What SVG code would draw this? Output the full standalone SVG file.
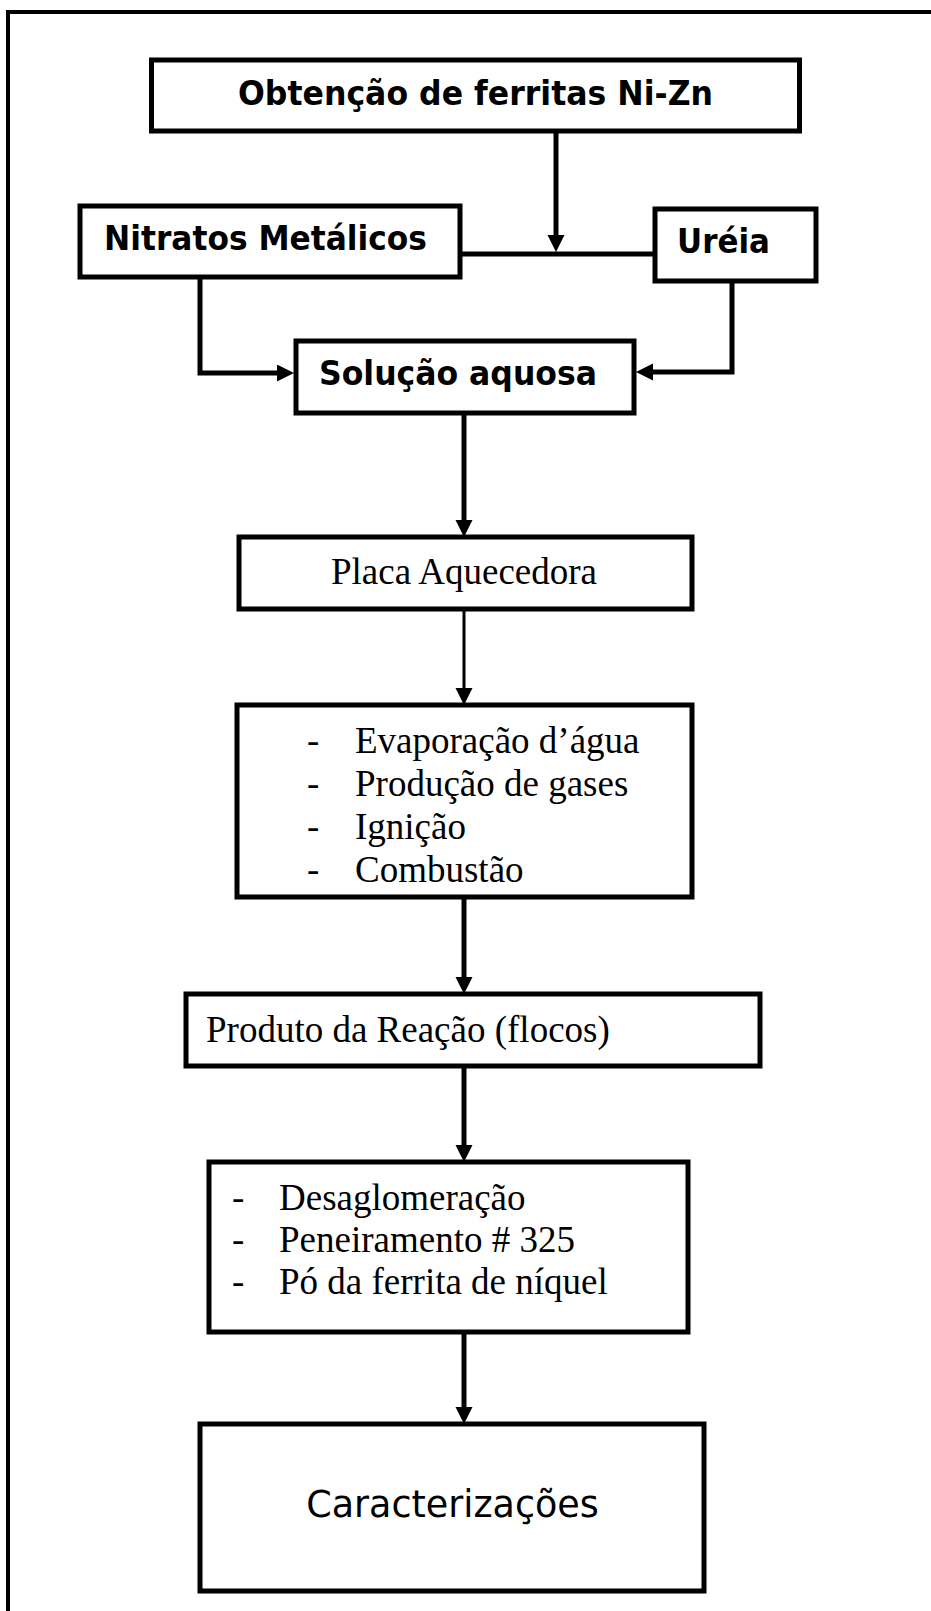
<svg xmlns="http://www.w3.org/2000/svg" width="931" height="1611" viewBox="0 0 931 1611">
<style>
.box{fill:#fff;stroke:#000;stroke-width:5}
.ln{fill:none;stroke:#000;stroke-width:5}
.thin{fill:none;stroke:#000;stroke-width:3}
.b{font-family:"DejaVu Sans",Verdana,sans-serif;font-weight:bold;font-size:33px;fill:#000}
.s{font-family:"Liberation Serif","Times New Roman",serif;font-size:37px;fill:#000}
.r{font-family:"DejaVu Sans",Verdana,sans-serif;font-size:36.5px;fill:#000}
</style>
<defs>
<marker id="ah" markerUnits="userSpaceOnUse" markerWidth="18" markerHeight="18" refX="2" refY="8.5" orient="auto">
<path d="M0,0 L17,8.5 L0,17 z" fill="#000"/>
</marker>
</defs>
<rect x="0" y="0" width="931" height="1611" fill="#fff"/>
<rect id="frame" x="8" y="12" width="1000" height="1700" fill="none" stroke="#000" stroke-width="4"/>

<g id="connectors">
<path class="ln" d="M556,131 V237" marker-end="url(#ah)"/>
<path class="ln" d="M460,254 H655"/>
<path class="ln" d="M200,277 V373 H279" marker-end="url(#ah)"/>
<path class="ln" d="M732,281 V372 H651" marker-end="url(#ah)"/>
<path class="ln" d="M464,413 V522" marker-end="url(#ah)"/>
<path class="thin" d="M464,609 V690" marker-end="url(#ah)"/>
<path class="ln" d="M464,898 V979" marker-end="url(#ah)"/>
<path class="ln" d="M464,1066 V1147" marker-end="url(#ah)"/>
<path class="ln" d="M464,1332 V1409" marker-end="url(#ah)"/>
</g>

<g id="obtencao">
<rect class="box" x="151.5" y="60" width="648" height="71"/>
<text class="b" x="238" y="105" textLength="475" lengthAdjust="spacingAndGlyphs">Obtenção de ferritas Ni-Zn</text>
</g>
<g id="nitratos">
<rect class="box" x="80" y="206" width="380" height="71"/>
<text class="b" x="104" y="250" textLength="323" lengthAdjust="spacingAndGlyphs">Nitratos Metálicos</text>
</g>
<g id="ureia">
<rect class="box" x="655" y="209" width="161" height="72"/>
<text class="b" x="677" y="253" textLength="93" lengthAdjust="spacingAndGlyphs">Uréia</text>
</g>
<g id="solucao">
<rect class="box" x="296" y="341" width="338" height="72"/>
<text class="b" x="319" y="385" textLength="278" lengthAdjust="spacingAndGlyphs">Solução aquosa</text>
</g>
<g id="placa">
<rect class="box" x="239" y="537" width="453" height="72"/>
<text class="s" x="464" y="584" text-anchor="middle">Placa Aquecedora</text>
</g>
<g id="processos">
<rect class="box" x="237" y="705" width="455" height="192"/>
<text class="s" x="307" y="753">-</text><text class="s" x="355" y="753">Evaporação d’água</text>
<text class="s" x="307" y="796">-</text><text class="s" x="355" y="796">Produção de gases</text>
<text class="s" x="307" y="839">-</text><text class="s" x="355" y="839">Ignição</text>
<text class="s" x="307" y="882">-</text><text class="s" x="355" y="882">Combustão</text>
</g>
<g id="produto">
<rect class="box" x="186" y="994" width="574" height="72"/>
<text class="s" x="206" y="1042">Produto da Reação (flocos)</text>
</g>
<g id="desaglomeracao">
<rect class="box" x="209" y="1162" width="479" height="170"/>
<text class="s" x="232" y="1210">-</text><text class="s" x="279" y="1210">Desaglomeração</text>
<text class="s" x="232" y="1252">-</text><text class="s" x="279" y="1252">Peneiramento # 325</text>
<text class="s" x="232" y="1294">-</text><text class="s" x="279" y="1294">Pó da ferrita de níquel</text>
</g>
<g id="caracterizacoes">
<rect class="box" x="200" y="1424" width="504" height="167"/>
<text class="r" x="452.5" y="1517" text-anchor="middle">Caracterizações</text>
</g>
</svg>
